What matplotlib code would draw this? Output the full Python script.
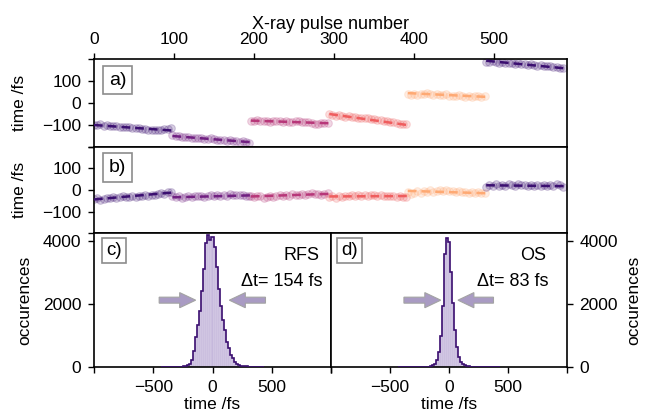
import numpy as np
import matplotlib
matplotlib.use("Agg")
import matplotlib.pyplot as plt
from matplotlib.patches import FancyArrow

plt.rcParams['font.family'] = ['Liberation Sans', 'DejaVu Sans']
plt.rcParams['font.size'] = 12

# ---------------- data ----------------
seg_starts = [0, 98, 196, 294, 392, 490]
seg_len = 97
pt_step = 4

# panel a: linear trend (start, end) and measured points per segment
a_trend_start = [-100, -150, -80, -50, 45, 192]
a_trend_end = [-125, -178, -92, -100, 28, 158]
a_seg1 = [-98, -101, -97, -103, -100, -104, -106, -103, -108, -107, -110, -109, -113,
          -112, -115, -118, -116, -121, -124, -122, -123, -121, -119, -117, -115]
a_seg2 = [-147, -152, -150, -155, -153, -156, -158, -157, -160, -159, -162, -164, -161,
          -165, -167, -166, -169, -171, -170, -173, -172, -176, -175, -178, -180]
a_seg3 = [-80, -83, -79, -82, -84, -81, -85, -83, -80, -84, -86, -82, -85,
          -87, -84, -83, -86, -88, -85, -90, -95, -97, -93, -90, -92]
a_seg4 = [-48, -55, -58, -56, -60, -62, -60, -64, -63, -66, -68, -67, -70,
          -73, -72, -76, -78, -80, -83, -85, -88, -92, -95, -97, -96]
a_seg5 = [40, 38, 42, 36, 39, 41, 44, 40, 38, 42, 37, 35, 39,
          34, 33, 31, 35, 30, 29, 32, 28, 31, 30, 27, 33]
a_seg6 = [188, 185, 190, 186, 183, 185, 181, 184, 180, 178, 182, 179, 176,
          174, 177, 172, 170, 173, 168, 166, 169, 164, 162, 160, 157]

# panel b
b_trend_start = [-44, -34, -30, -30, -4, 22]
b_trend_end = [-12, -25, -18, -28, -15, 18]
b_seg1 = [-42, -38, -45, -40, -36, -39, -34, -37, -33, -30, -34, -31, -28,
          -32, -27, -29, -25, -28, -22, -24, -18, -14, -17, -10, -8]
b_seg2 = [-30, -33, -28, -35, -31, -29, -34, -27, -30, -26, -32, -28, -25,
          -29, -24, -27, -23, -26, -20, -24, -22, -25, -21, -26, -28]
b_seg3 = [-28, -32, -26, -30, -35, -31, -27, -33, -29, -24, -28, -22, -26,
          -20, -25, -22, -18, -23, -20, -15, -19, -17, -21, -18, -16]
b_seg4 = [-33, -30, -35, -29, -32, -27, -30, -25, -28, -24, -27, -22, -26,
          -25, -23, -27, -24, -28, -26, -30, -27, -31, -29, -33, -32]
b_seg5 = [-8, -18, -12, -6, -14, -4, -9, -2, -7, -3, 0, -5, -2,
          -6, -3, -8, -5, -10, -7, -12, -9, -14, -11, -16, -13]
b_seg6 = [12, 25, 18, 28, 20, 24, 17, 27, 22, 19, 26, 21, 24,
          18, 25, 20, 23, 17, 22, 19, 24, 20, 27, 21, 12]

a_points = [a_seg1, a_seg2, a_seg3, a_seg4, a_seg5, a_seg6]
b_points = [b_seg1, b_seg2, b_seg3, b_seg4, b_seg5, b_seg6]

# histograms (bin width 17 fs, bins k = -25 .. 25)
bin_width = 17
c_counts = [0, 0, 0, 2, 3, 4, 5, 6, 8, 10, 12, 18,
            30, 55, 110, 215, 520, 950, 1340, 1770, 2420, 3120, 3920, 4190, 4030,
            4110, 3820, 3170, 2470, 1935, 1500, 1180, 800, 590, 375, 270, 160, 110,
            75, 45, 30, 22, 16, 12, 10, 8, 6, 5, 3, 2, 1]
d_counts = [0, 0, 0, 0, 0, 0, 0, 0, 1, 2, 3, 4, 5, 6, 8, 10,
            18, 55, 110, 215, 480, 970, 1935, 3600, 4085, 3980, 3010, 2040, 1180,
            645, 320, 160, 85, 55, 30, 20, 14, 10, 8, 6, 5,
            4, 3, 3, 2, 2, 1, 1, 1, 0, 0]
c_label, c_width = "RFS", 154
d_label, d_width = "OS", 83

top_ticks = [0, 100, 200, 300, 400, 500]
time_ticks = [-1000, -500, 0, 500, 1000]
time_ticklabels = ['', '\u2212500', '0', '500', '']
count_ticks = [0, 2000, 4000]

# ---------------- style ----------------
cmap = plt.get_cmap('magma')
seg_colors = [cmap(0.2), cmap(0.33), cmap(0.5), cmap(0.66), cmap(0.82), cmap(0.2)]
hist_fill = '#c5b8dc'
hist_edge = '#3b0f70'
arrow_fc = '#a99bc3'
arrow_ec = '#a3a3a3'

fig = plt.figure(figsize=(6.46, 4.17), dpi=100)
axa = fig.add_axes([0.1455, 0.6475, 0.7322, 0.211])
axb = fig.add_axes([0.1455, 0.4412, 0.7322, 0.2063])
axc = fig.add_axes([0.1455, 0.1199, 0.3669, 0.3213])
axd = fig.add_axes([0.5124, 0.1199, 0.3653, 0.3213])

for ax in (axa, axb, axc, axd):
    for sp in ax.spines.values():
        sp.set_linewidth(1.2)
    ax.tick_params(width=1.0, length=4, pad=5, labelsize=12.5)


def draw_traces(ax, tstart, tend, points):
    for i, s in enumerate(seg_starts):
        col = seg_colors[i]
        xs = s + pt_step * np.arange(len(points[i]))
        ax.plot(xs, points[i], 'o', ms=5.5, mfc=col, mec=col, alpha=0.2, mew=0.8, zorder=2)
        ax.plot([s, s + seg_len], [tstart[i], tend[i]], color=col, lw=1.8,
                dashes=(3.5, 2), zorder=3)


draw_traces(axa, a_trend_start, a_trend_end, a_points)
draw_traces(axb, b_trend_start, b_trend_end, b_points)

for ax, lo in ((axa, -200), (axb, -180)):
    ax.set_xlim(0, 591)
    ax.set_ylim(lo, 200)
    ax.set_yticks([-200, -100, 0, 100, 200])
    ax.set_yticklabels(['', '\u2212100', '0', '100', ''])
    ax.set_ylabel('time /fs', fontsize=12.5, labelpad=11)

axa.xaxis.set_ticks_position('top')
axa.xaxis.set_label_position('top')
axa.set_xticks(top_ticks)
axa.set_xlabel('X-ray pulse number', fontsize=13, labelpad=2)
axb.set_xticks([])

box = dict(boxstyle='square,pad=0.3', fc='white', ec='#8c8c8c', lw=1.2)
axa.text(0.05, 0.76, 'a)', transform=axa.transAxes, ha='center', va='center', bbox=box,
         fontsize=14)
axb.text(0.05, 0.76, 'b)', transform=axb.transAxes, ha='center', va='center', bbox=box,
         fontsize=14)


def draw_hist(ax, counts, label, width, arrows):
    n = len(counts)
    k = np.arange(n) - n // 2
    centers = k * bin_width
    edges = np.append(centers - bin_width / 2, centers[-1] + bin_width / 2)
    ax.bar(centers, counts, width=bin_width, color=hist_fill, edgecolor='#e4dcef',
           linewidth=0.3, zorder=2)
    ax.stairs(counts, edges, color=hist_edge, lw=1.2, zorder=3)
    ax.set_xlim(-1000, 1000)
    ax.set_ylim(0, 4250)
    ax.set_xticks(time_ticks)
    ax.set_xticklabels(time_ticklabels)
    ax.set_xlabel('time /fs', fontsize=12.5, labelpad=2)
    for (x0, x1) in arrows:
        ax.add_patch(FancyArrow(x0, 2120, x1 - x0, 0, width=190, head_width=480,
                                head_length=135, length_includes_head=True,
                                fc=arrow_fc, ec=arrow_ec, lw=0.8, zorder=4))


draw_hist(axc, c_counts, c_label, c_width, [(-450, -142), (447, 142)])
draw_hist(axd, d_counts, d_label, d_width, [(-382, -70), (377, 76)])

axc.set_yticks(count_ticks)
axc.set_ylabel('occurences', fontsize=12.5, labelpad=8)
axd.yaxis.set_ticks_position('right')
axd.yaxis.set_label_position('right')
axd.set_yticks(count_ticks)
axd.set_ylabel('occurences', fontsize=12.5, labelpad=6)

axc.text(0.95, 0.835, c_label, transform=axc.transAxes, ha='right', va='center', fontsize=13)
axc.text(0.965, 0.635, '\u0394t= %d fs' % c_width, transform=axc.transAxes, ha='right',
         va='center', fontsize=13)
axd.text(0.91, 0.835, d_label, transform=axd.transAxes, ha='right', va='center', fontsize=13)
axd.text(0.92, 0.64, '\u0394t= %d fs' % d_width, transform=axd.transAxes, ha='right',
         va='center', fontsize=13)

box2 = dict(boxstyle='square,pad=0.22', fc='white', ec='#8c8c8c', lw=1.2)
axc.text(0.084, 0.87, 'c)', transform=axc.transAxes, ha='center', va='center', bbox=box2,
         fontsize=13.5)
axd.text(0.08, 0.87, 'd)', transform=axd.transAxes, ha='center', va='center', bbox=box2,
         fontsize=13.5)

fig.savefig('out.png', dpi=100)
